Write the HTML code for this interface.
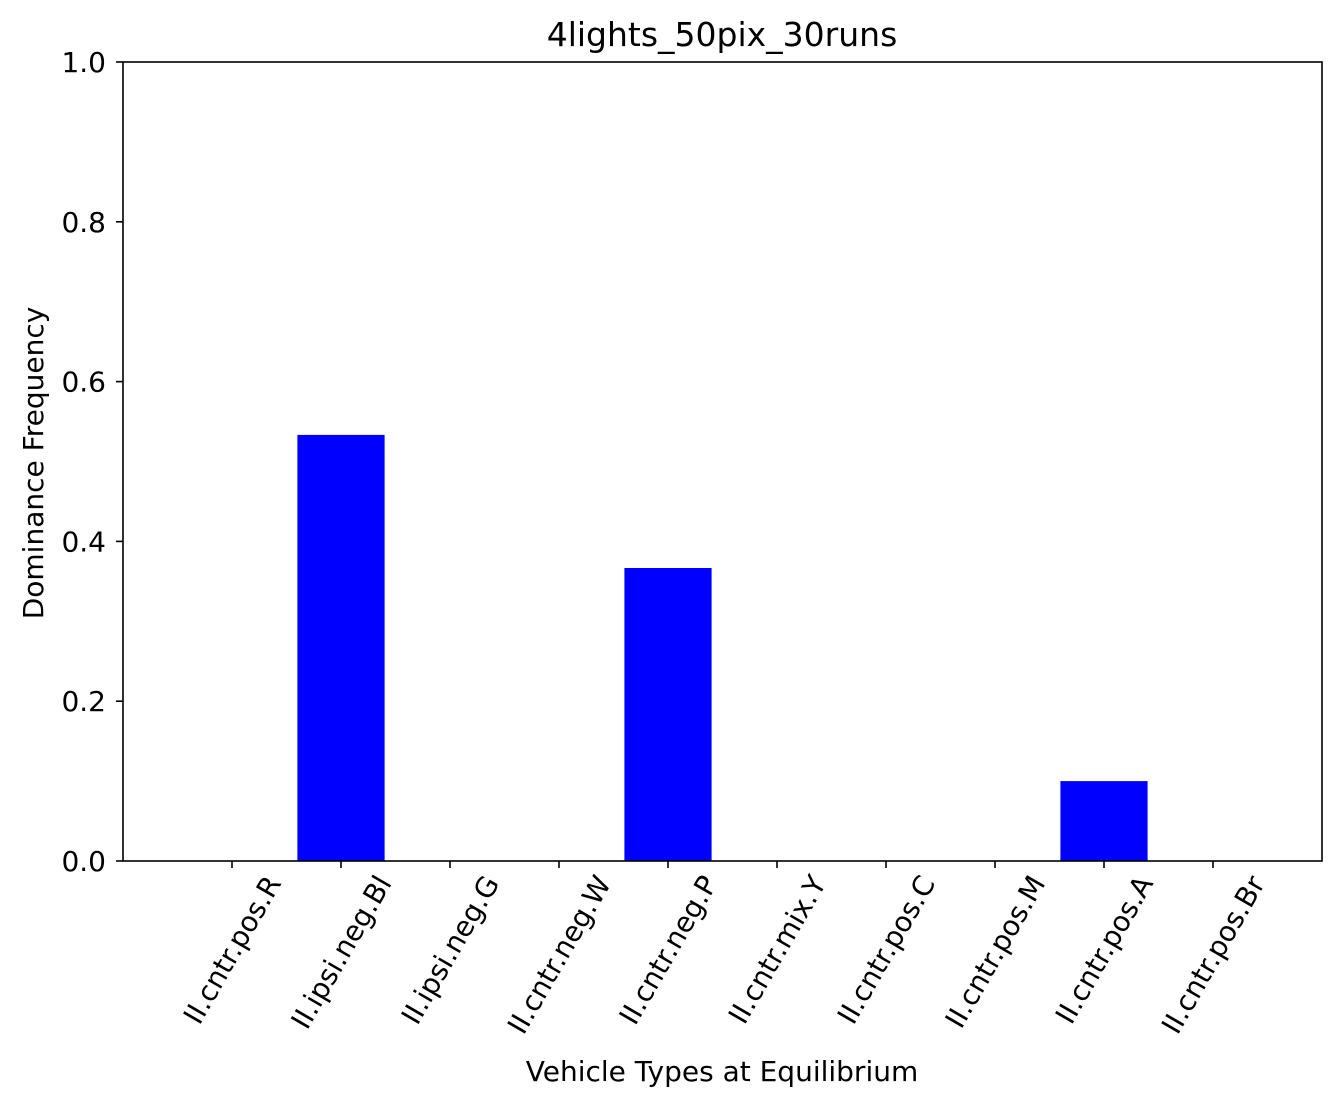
<!DOCTYPE html>
<html><head><meta charset="utf-8"><style>body{margin:0;background:#fff}svg{display:block;font-family:"DejaVu Sans","Liberation Sans",sans-serif}</style></head>
<body>
<svg id="chart" width="1342" height="1107" viewBox="0 0 1342 1107">
<rect x="0" y="0" width="1342" height="1107" fill="#fff"/>
<text x="722" y="46" font-size="33" text-anchor="middle">4lights_50pix_30runs</text>
<text transform="translate(43,463) rotate(-90)" font-size="28" text-anchor="middle">Dominance Frequency</text>
<text x="722" y="1081" font-size="28" text-anchor="middle">Vehicle Types at Equilibrium</text>
<g id="bars"></g><g id="yticks"></g><g id="xticks"></g>
<rect x="123" y="62" width="1199" height="799" fill="none" stroke="#000" stroke-width="1.6"/>
</svg>
<script>
const categories = ["II.cntr.pos.R","II.ipsi.neg.Bl","II.ipsi.neg.G","II.cntr.neg.W","II.cntr.neg.P","II.cntr.mix.Y","II.cntr.pos.C","II.cntr.pos.M","II.cntr.pos.A","II.cntr.pos.Br"];
const values = [0, 0.5333, 0, 0, 0.3667, 0, 0, 0, 0.1, 0];
const yTicks = [0, 0.2, 0.4, 0.6, 0.8, 1.0];
const yTickLabels = ["0.0","0.2","0.4","0.6","0.8","1.0"];

const NS = "http://www.w3.org/2000/svg";
const L=123,R=1322,T=62,B=861;
const x = i => L + (i + 1) / 11 * (R - L);
const y = v => B - v * (B - T);
const bw = 0.8 / 11 * (R - L);
function mk(t, a, p){const e=document.createElementNS(NS,t);for(const k in a)e.setAttribute(k,a[k]);p.appendChild(e);return e;}
const gb=document.getElementById('bars'), gy=document.getElementById('yticks'), gx=document.getElementById('xticks');
values.forEach((v,i)=>{
  const r=mk('rect',{x:x(i)-bw/2,y:y(v),width:bw,height:B-y(v),fill:'#0000ff'},gb);
  
  
});
yTicks.forEach((t,i)=>{
  const l=mk('line',{x1:L-7,x2:L,y1:y(t),y2:y(t),stroke:'#000','stroke-width':1.6},gy);
  
  
  const tx=mk('text',{x:L-17,y:y(t)+10,'font-size':28,'text-anchor':'end'},gy);
  tx.textContent=yTickLabels[i];
  
  
});
categories.forEach((c,i)=>{
  const l=mk('line',{x1:x(i),x2:x(i),y1:B,y2:B+7,stroke:'#000','stroke-width':1.6},gx);
  
  
  const tx=mk('text',{'font-size':28,'text-anchor':'middle'},gx);
  tx.textContent=c;
  
  
  const w=tx.getComputedTextLength();
  const cy=871+(w*0.866+28*0.5)/2;
  tx.setAttribute('transform','translate('+x(i)+','+cy+') rotate(-60) translate(0,10)');
});
</script>
</body></html>
